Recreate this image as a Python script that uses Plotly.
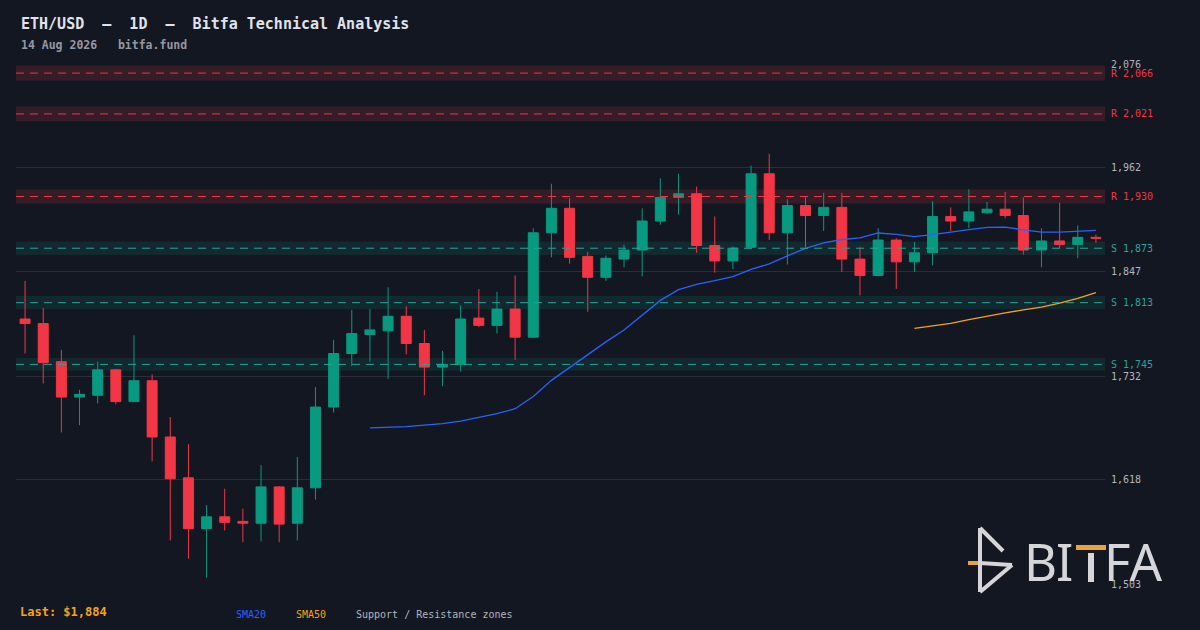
import plotly.graph_objects as go

# ---------------- data ----------------
opens  = [1795,1790,1748,1709,1711,1739,1704,1727,1665,1620,
          1564,1577,1572,1570,1610,1570,1609,1698,1757,1778,
          1782,1798,1768,1742,1745,1796,1788,1806,1775,1890,
          1917,1864,1841,1861,1871,1903,1929,1933,1876,1859,
          1874,1955,1890,1920,1909,1918,1861,1843,1882,1858,
          1868,1908,1903,1912,1916,1909,1871,1881,1877,1885]
highs  = [1837,1807,1761,1717,1748,1740,1777,1734,1687,1657,
          1590,1608,1586,1634,1611,1643,1720,1772,1805,1806,
          1830,1809,1783,1760,1810,1828,1825,1843,1895,1944,
          1928,1869,1865,1877,1917,1950,1955,1941,1908,1875,
          1964,1977,1927,1929,1934,1934,1874,1895,1884,1880,
          1925,1918,1938,1924,1935,1929,1895,1923,1898,1888]
lows   = [1757,1724,1670,1678,1702,1701,1704,1638,1551,1531,
          1510,1562,1549,1550,1549,1551,1596,1692,1743,1748,
          1729,1756,1711,1721,1737,1786,1779,1750,1774,1863,
          1856,1803,1837,1852,1842,1899,1910,1868,1846,1850,
          1873,1882,1855,1874,1892,1847,1821,1842,1828,1847,
          1854,1892,1895,1911,1906,1866,1852,1873,1862,1879]
closes = [1790,1747,1709,1712,1739,1704,1727,1665,1619,1564,
          1577,1571,1570,1610,1569,1609,1698,1757,1779,1783,
          1798,1768,1742,1745,1795,1788,1806,1775,1890,1917,
          1863,1841,1862,1871,1903,1929,1933,1876,1859,1873,
          1955,1890,1920,1909,1918,1861,1843,1882,1858,1868,
          1908,1903,1913,1916,1909,1871,1881,1877,1885,1884]
bars = list(range(len(closes)))

sma20 = [1675.0,1675.4,1676.4,1678.1,1679.7,1682.5,1686.7,1690.7,1696.2,1709.7,
         1727.4,1741.7,1755.2,1769.8,1782.8,1799.5,1815.5,1827.3,1833.2,1837.2,
         1841.7,1849.6,1855.7,1864.6,1872.8,1878.9,1882.6,1884.4,1889.8,1888.2,
         1885.7,1888.0,1891.1,1893.6,1895.9,1896.2,1893.3,1890.7,1890.7,1892.0,
         1892.6]
sma50 = [1784.7,1787.1,1790.2,1794.3,1798.4,1801.8,1805.1,1808.2,1812.4,1817.8,
         1824.2]

resistance = [2066, 2021, 1930]
support = [1873, 1813, 1745]

tick_vals = [1503, 1618, 1732, 1847, 1962, 2076]
tick_text = ["1,503", "1,618", "1,732", "1,847", "1,962", "2,076"]

title_text = "ETH/USD  \u2013  1D  \u2013  Bitfa Technical Analysis"
subtitle_text = "14 Aug 2026   bitfa.fund"

# ---------------- style ----------------
BG = "#131722"
GRID = "#2a2e39"
UP = "#089981"
DN = "#f23645"
S_LINE = "#26a69a"
BLUE = "#2962ff"
ORANGE = "#f7a21b"
MONO = "DejaVu Sans Mono"

L, R, T, B = 16, 1105, 64, 584
def px(x):
    return (x - L) / (R - L)
def py(y):
    return (B - y) / (B - T)

fig = go.Figure()

fig.add_trace(go.Candlestick(
    x=bars, open=opens, high=highs, low=lows, close=closes,
    increasing=dict(line=dict(color=UP, width=1), fillcolor=UP),
    decreasing=dict(line=dict(color=DN, width=1), fillcolor=DN),
    whiskerwidth=0, showlegend=False, hoverinfo="skip",
))
fig.add_trace(go.Scatter(x=bars[len(bars) - len(sma20):], y=sma20, mode="lines",
                         line=dict(color=BLUE, width=1.3), showlegend=False, hoverinfo="skip"))
fig.add_trace(go.Scatter(x=bars[len(bars) - len(sma50):], y=sma50, mode="lines",
                         line=dict(color=ORANGE, width=1.3), showlegend=False, hoverinfo="skip"))

shapes = []
annotations = []
ZONE = 0.004
for lvl in resistance:
    shapes.append(dict(type="rect", xref="paper", yref="y", x0=0, x1=1,
                       y0=lvl * (1 - ZONE), y1=lvl * (1 + ZONE),
                       fillcolor="rgba(242,54,69,0.16)", line=dict(width=0), layer="below"))
    shapes.append(dict(type="line", xref="paper", yref="y", x0=0, x1=1, y0=lvl, y1=lvl,
                       line=dict(color=DN, width=1, dash="8px,6px")))
    annotations.append(dict(xref="paper", yref="y", x=1, y=lvl, xanchor="left", yanchor="middle",
                            xshift=4, text=f"R {lvl:,}", showarrow=False,
                            font=dict(family=MONO, size=10, color=DN)))
for lvl in support:
    shapes.append(dict(type="rect", xref="paper", yref="y", x0=0, x1=1,
                       y0=lvl * (1 - ZONE), y1=lvl * (1 + ZONE),
                       fillcolor="rgba(8,153,129,0.14)", line=dict(width=0), layer="below"))
    shapes.append(dict(type="line", xref="paper", yref="y", x0=0, x1=1, y0=lvl, y1=lvl,
                       line=dict(color=S_LINE, width=1, dash="8px,6px")))
    annotations.append(dict(xref="paper", yref="y", x=1, y=lvl, xanchor="left", yanchor="middle",
                            xshift=4, text=f"S {lvl:,}", showarrow=False,
                            font=dict(family=MONO, size=10, color=S_LINE)))

# title and subtitle
annotations.append(dict(xref="paper", yref="paper", x=px(19), y=py(24), xanchor="left", yanchor="middle",
                        text=f"<b>{title_text}</b>", showarrow=False,
                        font=dict(family=MONO, size=15, color="#e0e3eb")))
annotations.append(dict(xref="paper", yref="paper", x=px(19), y=py(45), xanchor="left", yanchor="middle",
                        text=f"<b>{subtitle_text}</b>", showarrow=False,
                        font=dict(family=MONO, size=11.5, color="#9598a1")))
# bottom legend
annotations.append(dict(xref="paper", yref="paper", x=px(18), y=py(612), xanchor="left", yanchor="middle",
                        text=f"<b>Last: ${closes[-1]:,}</b>", showarrow=False,
                        font=dict(family=MONO, size=12, color=ORANGE)))
for label, x0, col in [("SMA20", 234, BLUE), ("SMA50", 294, ORANGE),
                       ("Support / Resistance zones", 354, "#b2b5be")]:
    annotations.append(dict(xref="paper", yref="paper", x=px(x0), y=py(614), xanchor="left",
                            yanchor="middle", text=label, showarrow=False,
                            font=dict(family=MONO, size=10, color=col)))

# logo (icon + wordmark)
LOGO = "#d6d6da"
LOGO_ORANGE = "#e8a33a"
def seg(x0, y0, x1, y1, color=LOGO, w=4):
    return dict(type="line", xref="paper", yref="paper", x0=px(x0), y0=py(y0), x1=px(x1), y1=py(y1),
                line=dict(color=color, width=w))
def box(x0, x1, y0, y1, color):
    return dict(type="rect", xref="paper", yref="paper", x0=px(x0), x1=px(x1),
                y0=py(y1), y1=py(y0), fillcolor=color, line=dict(width=0))
shapes += [
    seg(980, 528, 980, 592),
    seg(980, 528, 1003, 551),
    seg(980, 563, 1012, 565),
    seg(1012, 565, 980, 592),
    seg(968, 563, 978, 563, color=LOGO_ORANGE),
    box(1076, 1106, 545, 550, LOGO_ORANGE),   # T crossbar
    box(1088, 1094, 553, 582, LOGO),          # T stem
]
for letter, x0, anchor in [("B", 1040, "center"), ("I", 1064, "center"), ("FA", 1102.5, "left")]:
    annotations.append(dict(xref="paper", yref="paper", x=px(x0), y=py(561), xanchor=anchor,
                            yanchor="middle", text=letter, showarrow=False, borderpad=0,
                            font=dict(family="Noto Sans", size=51, color=LOGO)))

fig.update_layout(
    width=1200, height=630, autosize=False,
    margin=dict(l=L, r=1200 - R, t=T, b=630 - B),
    paper_bgcolor=BG, plot_bgcolor=BG,
    showlegend=False,
    boxgap=0.45, boxgroupgap=0,
    shapes=shapes, annotations=annotations,
    xaxis=dict(range=[-0.5, len(bars) - 0.5], showgrid=False, zeroline=False,
               showticklabels=False, ticks="", showline=False, rangeslider=dict(visible=False),
               fixedrange=True),
    yaxis=dict(range=[tick_vals[0], tick_vals[-1]], side="right", tickvals=tick_vals, ticktext=tick_text,
               gridcolor=GRID, gridwidth=1, zeroline=False, showline=False, ticks="",
               ticklabelstandoff=5,
               tickfont=dict(family=MONO, size=10, color="#b2b5be"), fixedrange=True),
)

fig.write_html(
    "out.html",
    config={"displayModeBar": False, "staticPlot": True},
    post_script=f"document.body.style.margin='0';document.body.style.background='{BG}';",
)
